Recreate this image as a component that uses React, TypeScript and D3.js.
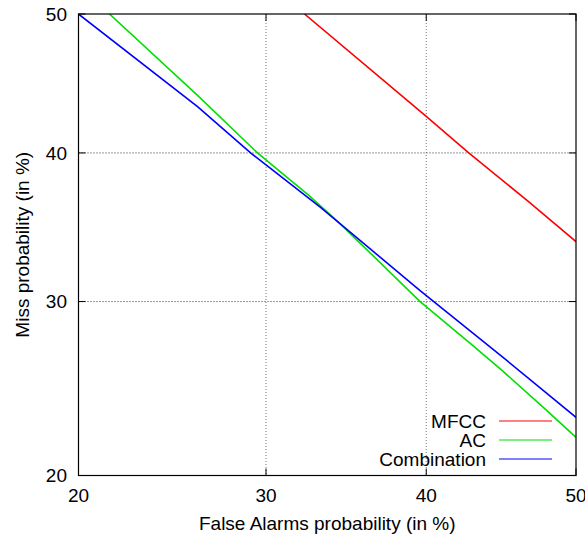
import React from 'react';
import * as d3 from 'd3';

const xTicks = [20, 30, 40, 50];
const yTicks = [20, 30, 40, 50];
const gridTicks = [30, 40];

const seriesNames = ['MFCC', 'AC', 'Combination'];
const seriesColors = ['#ff0000', '#00e000', '#0000ff'];

// [false alarm %, miss %]
const mfcc: [number, number][] = [
  [32.3, 50], [40.0, 42.6], [42.8, 40.0], [46.7, 36.7], [50.0, 33.9],
];
const ac: [number, number][] = [
  [21.5, 50], [26.1, 44.1], [29.5, 40.0], [32.6, 37.0], [34.5, 35.1], [39.6, 30.0],
  [42.9, 27.4], [45.0, 25.8], [48.0, 23.5], [50.0, 22.0],
];
const combination: [number, number][] = [
  [20.0, 50], [26.1, 43.3], [29.1, 40.0], [33.3, 36.2], [39.6, 30.7],
  [44.9, 26.7], [50.0, 23.1],
];
const seriesData = [mfcc, ac, combination];

function probit(p: number): number {
  const a = [-3.969683028665376e1, 2.209460984245205e2, -2.759285104469687e2, 1.38357751867269e2, -3.066479806614716e1, 2.506628277459239];
  const b = [-5.447609879822406e1, 1.615858368580409e2, -1.556989798598866e2, 6.680131188771972e1, -1.328068155288572e1];
  const c = [-7.784894002430293e-3, -3.223964580411365e-1, -2.400758277161838, -2.549732539343734, 4.374664141464968, 2.938163982698783];
  const d = [7.784695709041462e-3, 3.224671290700398e-1, 2.445134137142996, 3.754408661907416];
  const pl = 0.02425, ph = 1 - pl;
  let q, r;
  if (p < pl) {
    q = Math.sqrt(-2 * Math.log(p));
    return (((((c[0] * q + c[1]) * q + c[2]) * q + c[3]) * q + c[4]) * q + c[5]) / ((((d[0] * q + d[1]) * q + d[2]) * q + d[3]) * q + 1);
  } else if (p <= ph) {
    q = p - 0.5; r = q * q;
    return (((((a[0] * r + a[1]) * r + a[2]) * r + a[3]) * r + a[4]) * r + a[5]) * q / (((((b[0] * r + b[1]) * r + b[2]) * r + b[3]) * r + b[4]) * r + 1);
  } else {
    q = Math.sqrt(-2 * Math.log(1 - p));
    return -(((((c[0] * q + c[1]) * q + c[2]) * q + c[3]) * q + c[4]) * q + c[5]) / ((((d[0] * q + d[1]) * q + d[2]) * q + d[3]) * q + 1);
  }
}

export default function App() {
  const W = 585, H = 537;
  const L = 78.5, R = 576, T = 14, B = 475.5;
  const zx = d3.scaleLinear().domain([probit(0.2), probit(0.5)]).range([L, R]);
  const zy = d3.scaleLinear().domain([probit(0.2), probit(0.5)]).range([B, T]);
  const x = (v: number) => zx(probit(v / 100));
  const y = (v: number) => zy(probit(v / 100));
  const line = d3.line<[number, number]>().x(d => x(d[0])).y(d => y(d[1]));
  const font = 'Liberation Sans, Arial, Helvetica, sans-serif';
  const fs = 19;
  const tickLen = 7;
  const legendRows = [421, 440, 459];

  return (
    <svg width={W} height={H} style={{ position: 'absolute', left: 0, top: 0, background: '#fff' }}
      fontFamily={font} fontSize={fs}>
      <defs>
        <clipPath id="plotclip">
          <rect x={L} y={T} width={R - L} height={B - T} />
        </clipPath>
      </defs>
      <rect x={0} y={0} width={W} height={H} fill="#fff" />
      {gridTicks.map(t => (
        <line key={'gx' + t} x1={x(t)} x2={x(t)} y1={T} y2={B} stroke="#777" strokeWidth={1} strokeDasharray="1,2" />
      ))}
      {gridTicks.map(t => (
        <line key={'gy' + t} x1={L} x2={R} y1={y(t)} y2={y(t)} stroke="#333" strokeWidth={1} strokeDasharray="1,2" />
      ))}
      {xTicks.map(t => (
        <g key={'xt' + t}>
          <line x1={x(t)} x2={x(t)} y1={B} y2={B - tickLen} stroke="#000" />
          <line x1={x(t)} x2={x(t)} y1={T} y2={T + tickLen} stroke="#000" />
          <text x={x(t)} y={502} textAnchor="middle">{t}</text>
        </g>
      ))}
      {yTicks.map(t => (
        <g key={'yt' + t}>
          <line x1={L} x2={L + tickLen} y1={y(t)} y2={y(t)} stroke="#000" />
          <line x1={R} x2={R - tickLen} y1={y(t)} y2={y(t)} stroke="#000" />
          <text x={67} y={y(t)} dy="0.36em" textAnchor="end">{t}</text>
        </g>
      ))}
      <g clipPath="url(#plotclip)">
        {seriesData.map((s, i) => (
          <path key={seriesNames[i]} d={line(s) || ''} fill="none" stroke={seriesColors[i]} strokeWidth={1.6} />
        ))}
      </g>
      {seriesNames.map((n, i) => (
        <g key={'lg' + n}>
          <text x={486} y={legendRows[i]} dy="0.36em" textAnchor="end">{n}</text>
          <line x1={499} x2={552} y1={legendRows[i]} y2={legendRows[i]} stroke={seriesColors[i]} strokeWidth={1} />
        </g>
      ))}
      <rect x={L} y={T} width={R - L} height={B - T} fill="none" stroke="#000" strokeWidth={1.2} />
      <text x={(L + R) / 2} y={530} textAnchor="middle">False Alarms probability (in %)</text>
      <text transform={`translate(29, ${(T + B) / 2}) rotate(-90)`} textAnchor="middle">Miss probability (in %)</text>
    </svg>
  );
}
